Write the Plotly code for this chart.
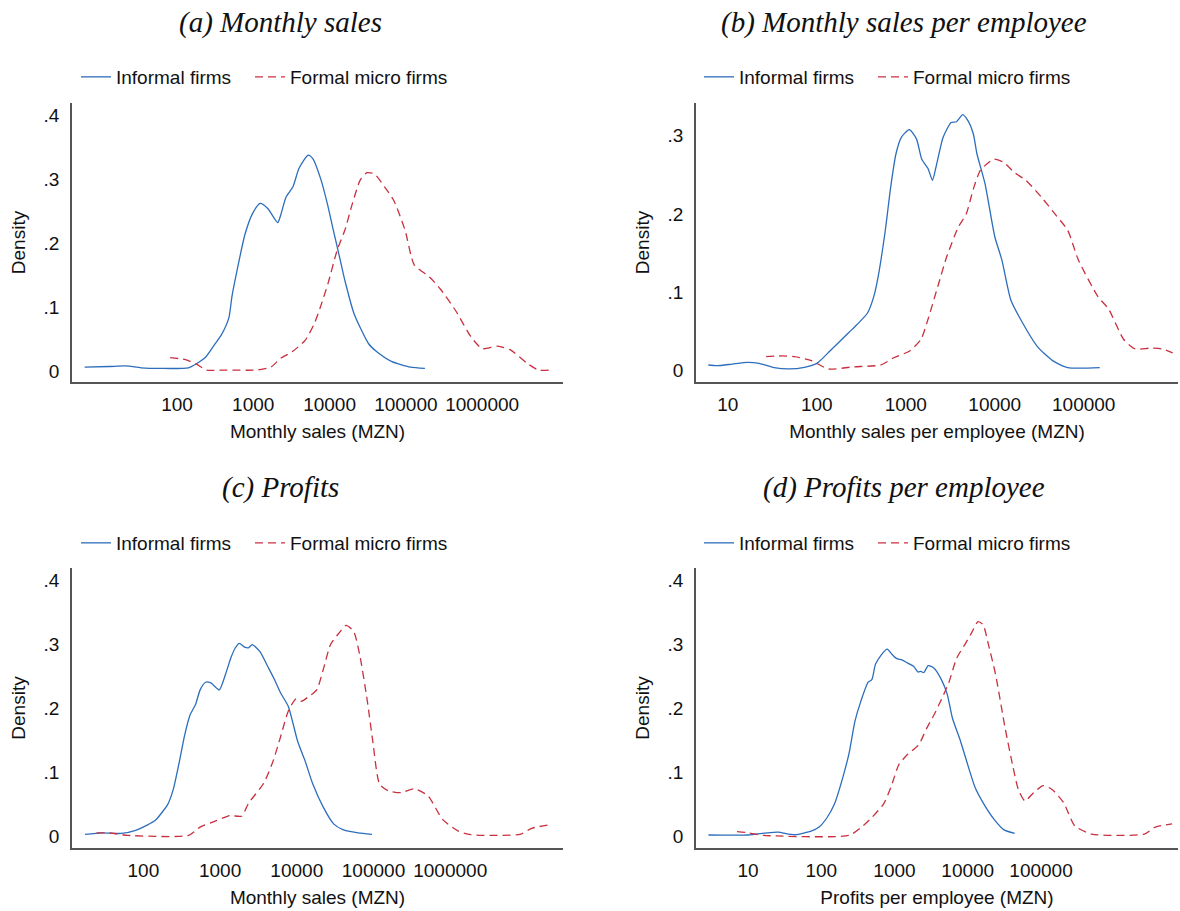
import numpy as np
import plotly.graph_objects as go

W, H = 1180, 911

# ---------------- data (x as log10 of MZN, y = density) ----------------
# (a) Monthly sales
a_inf_lx = [0.79, 1.11, 1.33, 1.53, 1.80, 2.15, 2.25, 2.37, 2.49, 2.58, 2.68, 2.72, 2.77, 2.89, 2.99,
            3.09, 3.19, 3.32, 3.36, 3.43, 3.52, 3.60, 3.72, 3.78, 3.89, 3.97, 4.05, 4.12, 4.20, 4.32,
            4.51, 4.62, 4.81, 5.06, 5.25]
a_inf_y = [0.006, 0.007, 0.008, 0.005, 0.004, 0.005, 0.011, 0.021, 0.041, 0.056, 0.083, 0.116, 0.147,
           0.213, 0.246, 0.262, 0.254, 0.232, 0.244, 0.272, 0.288, 0.317, 0.3375, 0.332, 0.298, 0.262,
           0.220, 0.184, 0.142, 0.090, 0.043, 0.030, 0.015, 0.006, 0.004]
a_for_lx = [1.91, 2.10, 2.25, 2.39, 2.64, 3.04, 3.23, 3.36, 3.51, 3.68, 3.80, 3.88, 3.98, 4.10, 4.20,
            4.30, 4.40, 4.49, 4.59, 4.72, 4.84, 4.99, 5.11, 5.31, 5.46, 5.66, 5.85, 6.00, 6.20, 6.37,
            6.59, 6.74, 6.90]
a_for_y = [0.021, 0.018, 0.011, 0.0015, 0.0015, 0.0015, 0.006, 0.020, 0.030, 0.048, 0.074, 0.100,
           0.137, 0.189, 0.220, 0.262, 0.298, 0.310, 0.308, 0.288, 0.267, 0.220, 0.166, 0.147, 0.127,
           0.093, 0.054, 0.035, 0.039, 0.033, 0.012, 0.0015, 0.0015]

# (b) Monthly sales per employee
b_inf_lx = [0.78, 0.88, 1.05, 1.22, 1.35, 1.52, 1.69, 1.86, 2.00, 2.15, 2.28, 2.36, 2.45, 2.57, 2.64,
            2.69, 2.77, 2.83, 2.89, 2.95, 3.04, 3.12, 3.18, 3.25, 3.30, 3.34, 3.42, 3.51, 3.57, 3.64,
            3.70, 3.76, 3.80, 3.89, 4.00, 4.08, 4.18, 4.29, 4.48, 4.65, 4.82, 5.18]
b_inf_y = [0.0064, 0.0055, 0.0076, 0.0097, 0.0085, 0.003, 0.0013, 0.0034, 0.0085, 0.0246, 0.039, 0.048,
           0.058, 0.073, 0.094, 0.120, 0.179, 0.234, 0.277, 0.298, 0.308, 0.296, 0.270, 0.258, 0.243,
           0.260, 0.298, 0.317, 0.318, 0.327, 0.319, 0.302, 0.277, 0.239, 0.171, 0.141, 0.090, 0.065,
           0.030, 0.012, 0.003, 0.003]
b_for_lx = [1.43, 1.60, 1.75, 1.94, 2.13, 2.41, 2.72, 2.87, 3.04, 3.17, 3.25, 3.36, 3.46, 3.59, 3.68,
            3.76, 3.84, 3.99, 4.10, 4.22, 4.35, 4.52, 4.69, 4.82, 4.94, 5.16, 5.28, 5.45, 5.58, 5.75,
            5.88, 6.00]
b_for_y = [0.017, 0.018, 0.017, 0.012, 0.0013, 0.004, 0.0064, 0.016, 0.024, 0.039, 0.065, 0.107, 0.145,
           0.183, 0.200, 0.232, 0.256, 0.270, 0.266, 0.253, 0.243, 0.222, 0.198, 0.179, 0.141, 0.094,
           0.078, 0.039, 0.027, 0.028, 0.027, 0.022]

# (c) Profits
c_inf_lx = [1.24, 1.46, 1.71, 1.90, 2.05, 2.16, 2.25, 2.32, 2.39, 2.47, 2.54, 2.61, 2.68, 2.74, 2.81,
            2.88, 2.99, 3.07, 3.14, 3.20, 3.25, 3.32, 3.37, 3.42, 3.52, 3.62, 3.71, 3.79, 3.89, 4.01,
            4.11, 4.21, 4.35, 4.48, 4.60, 4.80, 4.98]
c_inf_y = [0.0026, 0.005, 0.004, 0.009, 0.017, 0.025, 0.038, 0.050, 0.073, 0.117, 0.159, 0.190, 0.206,
           0.229, 0.241, 0.240, 0.229, 0.253, 0.279, 0.295, 0.302, 0.296, 0.295, 0.300, 0.289, 0.266,
           0.245, 0.224, 0.203, 0.149, 0.117, 0.081, 0.044, 0.019, 0.010, 0.005, 0.0026]
c_for_lx = [1.39, 1.56, 1.80, 2.59, 2.74, 2.93, 3.13, 3.28, 3.37, 3.57, 3.69, 3.79, 3.89, 3.99, 4.06,
            4.16, 4.26, 4.35, 4.44, 4.55, 4.64, 4.74, 4.82, 4.92, 4.99, 5.08, 5.19, 5.36, 5.53, 5.71,
            5.90, 6.10, 6.27, 6.91, 7.06, 7.31]
c_for_y = [0.005, 0.0047, 0.001, 0.001, 0.014, 0.023, 0.032, 0.031, 0.051, 0.083, 0.117, 0.156, 0.196,
           0.215, 0.211, 0.219, 0.229, 0.263, 0.300, 0.318, 0.330, 0.321, 0.284, 0.211, 0.149, 0.081,
           0.071, 0.068, 0.074, 0.063, 0.026, 0.008, 0.002, 0.0026, 0.012, 0.018]

# (d) Profits per employee
d_inf_lx = [0.46, 1.00, 1.26, 1.41, 1.64, 1.87, 1.97, 2.08, 2.18, 2.28, 2.38, 2.46, 2.54, 2.64, 2.69,
            2.74, 2.82, 2.90, 2.97, 3.03, 3.10, 3.18, 3.26, 3.32, 3.36, 3.40, 3.46, 3.54, 3.64, 3.72,
            3.79, 3.90, 4.02, 4.10, 4.21, 4.36, 4.49, 4.64]
d_inf_y = [0.0016, 0.0016, 0.005, 0.006, 0.002, 0.008, 0.014, 0.029, 0.050, 0.086, 0.130, 0.180, 0.211,
           0.241, 0.245, 0.269, 0.284, 0.293, 0.284, 0.278, 0.276, 0.271, 0.266, 0.257, 0.258, 0.256,
           0.267, 0.263, 0.245, 0.222, 0.185, 0.149, 0.104, 0.076, 0.052, 0.026, 0.010, 0.004]
d_for_lx = [0.85, 1.00, 1.21, 2.38, 2.54, 2.69, 2.85, 2.95, 3.06, 3.18, 3.33, 3.44, 3.54, 3.64, 3.74,
            3.85, 3.97, 4.05, 4.14, 4.21, 4.28, 4.38, 4.51, 4.62, 4.69, 4.78, 4.90, 5.03, 5.15, 5.31,
            5.46, 5.69, 6.41, 6.56, 6.79]
d_for_y = [0.007, 0.005, 0.001, 0.001, 0.013, 0.029, 0.050, 0.076, 0.112, 0.128, 0.143, 0.169, 0.190,
           0.214, 0.240, 0.279, 0.302, 0.318, 0.336, 0.331, 0.301, 0.253, 0.169, 0.107, 0.073, 0.055,
           0.068, 0.079, 0.073, 0.052, 0.016, 0.003, 0.003, 0.014, 0.019]

titles = ["(a) Monthly sales", "(b) Monthly sales per employee", "(c) Profits", "(d) Profits per employee"]
xtitles = ["Monthly sales (MZN)", "Monthly sales per employee (MZN)", "Monthly sales (MZN)",
           "Profits per employee (MZN)"]
series_names = ["Informal firms", "Formal micro firms"]
xticks_big = [100, 1000, 10000, 100000, 1000000]
xticks_small = [10, 100, 1000, 10000, 100000]
yticks = [0, 0.1, 0.2, 0.3, 0.4]
yticktext = ["0", ".1", ".2", ".3", ".4"]

BLUE = "#2c6dbd"
RED = "#c9303f"
FONT = "Liberation Sans"
FS = 19

panels = [
    dict(inf=(a_inf_lx, a_inf_y), frm=(a_for_lx, a_for_y), xt=xticks_big,
         xd=(72, 563), yd=(103, 382), xr=(0.624, 7.06), yr=(-0.0172, 0.419)),
    dict(inf=(b_inf_lx, b_inf_y), frm=(b_for_lx, b_for_y), xt=xticks_small,
         xd=(696, 1178), yd=(103, 382), xr=(0.642, 6.06), yr=(-0.0154, 0.342)),
    dict(inf=(c_inf_lx, c_inf_y), frm=(c_for_lx, c_for_y), xt=xticks_big,
         xd=(72, 563), yd=(568, 848), xr=(1.07, 7.47), yr=(-0.0188, 0.420)),
    dict(inf=(d_inf_lx, d_inf_y), frm=(d_for_lx, d_for_y), xt=xticks_small,
         xd=(696, 1178), yd=(568, 848), xr=(0.29, 6.87), yr=(-0.0188, 0.420)),
]

fig = go.Figure()
layout = dict(
    width=W, height=H, margin=dict(l=0, r=0, t=0, b=0),
    paper_bgcolor="white", plot_bgcolor="white",
    font=dict(family=FONT, size=FS, color="#111"),
    annotations=[],
)

title_cx = [280, 904, 280, 904]
title_cy = [22, 22, 488, 488]
legend_y = [77, 77, 543, 543]
legend_x1 = [76, 699, 76, 699]
legend_x2 = [250, 873, 250, 873]

for i, p in enumerate(panels):
    n = i + 1
    xa = "x" if n == 1 else f"x{n}"
    ya = "y" if n == 1 else f"y{n}"
    lg1 = "legend" if n == 1 else f"legend{2 * n - 1}"
    lg2 = f"legend{2 * n}"
    fig.add_trace(go.Scatter(
        x=10 ** np.array(p["inf"][0]), y=p["inf"][1], mode="lines", name=series_names[0],
        line=dict(color=BLUE, width=1.3, shape="spline", smoothing=0.6),
        xaxis=xa, yaxis=ya, legend=lg1, showlegend=True))
    fig.add_trace(go.Scatter(
        x=10 ** np.array(p["frm"][0]), y=p["frm"][1], mode="lines", name=series_names[1],
        line=dict(color=RED, width=1.3, dash="8px,5px", shape="spline", smoothing=0.6),
        xaxis=xa, yaxis=ya, legend=lg2, showlegend=True))

    xkey = "xaxis" if n == 1 else f"xaxis{n}"
    ykey = "yaxis" if n == 1 else f"yaxis{n}"
    layout[xkey] = dict(
        type="log", domain=[p["xd"][0] / W, p["xd"][1] / W], range=list(p["xr"]),
        anchor=ya, showgrid=False, zeroline=False, showline=True, linecolor="#555", linewidth=1.5,
        ticks="", tickvals=p["xt"], ticktext=[str(v) for v in p["xt"]], ticklabelstandoff=4,
        tickfont=dict(family=FONT, size=FS, color="#111"),
        title=dict(text=xtitles[i], font=dict(family=FONT, size=FS, color="#111"), standoff=11),
    )
    layout[ykey] = dict(
        domain=[1 - p["yd"][1] / H, 1 - p["yd"][0] / H], range=list(p["yr"]),
        anchor=xa, showgrid=False, zeroline=False, showline=True, linecolor="#555", linewidth=1.5,
        ticks="", tickvals=yticks, ticktext=yticktext, ticklabelstandoff=7,
        tickfont=dict(family=FONT, size=FS, color="#111"),
        title=dict(text="Density", font=dict(family=FONT, size=FS, color="#111"), standoff=13),
    )
    for lg, lx in ((lg1, legend_x1[i]), (lg2, legend_x2[i])):
        layout[lg] = dict(
            x=lx / W, y=1 - legend_y[i] / H, xanchor="left", yanchor="middle",
            orientation="h", bgcolor="rgba(0,0,0,0)", borderwidth=0,
            font=dict(family=FONT, size=FS, color="#111"), itemwidth=30,
        )
    layout["annotations"].append(dict(
        text=f"<i>{titles[i]}</i>", x=title_cx[i] / W, y=1 - title_cy[i] / H,
        xref="paper", yref="paper", xanchor="center", yanchor="middle", showarrow=False,
        font=dict(family="Liberation Serif", size=29, color="#111"),
    ))

fig.update_layout(**layout)
fig.write_html("out.html", config={"displayModeBar": False},
               post_script="document.body.style.margin='0px';")
